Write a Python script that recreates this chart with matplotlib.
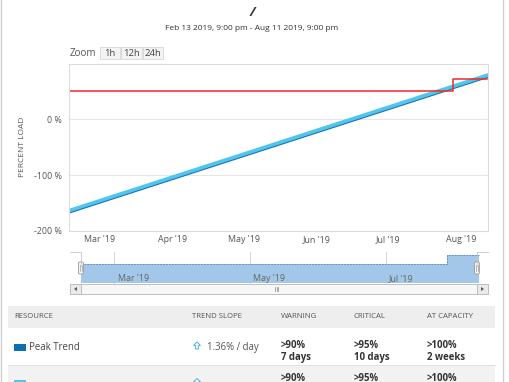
import matplotlib
matplotlib.use("Agg")
import matplotlib.pyplot as plt
import matplotlib.dates as mdates
import numpy as np
import pandas as pd
from matplotlib.patches import Rectangle, FancyBboxPatch, Polygon

plt.rcParams['font.family'] = ['Open Sans', 'DejaVu Sans']

# ---------------- data ----------------
title = "/"
subtitle = "Feb 13 2019, 9:00 pm - Aug 11 2019, 9:00 pm"
trend_dates = ["2019-02-15", "2019-08-13"]
peak_trend = [-167.0, 78.0]
avg_trend = [-165.0, 80.0]
threshold_dates = ["2019-02-13 21:00", "2019-07-28 12:00", "2019-08-11 21:00"]
threshold_values = [50.0, 73.0, 73.0]
y_ticks = [0, -100, -200]
y_tick_labels = ["0 %", "-100 %", "-200 %"]
x_tick_dates = ["2019-03-01", "2019-04-01", "2019-05-01", "2019-06-01", "2019-07-01", "2019-08-01"]
x_tick_labels = ["Mar '19", "Apr '19", "May '19", "Jun '19", "Jul '19", "Aug '19"]
nav_tick_dates = ["2019-03-01", "2019-05-01", "2019-07-01"]
nav_tick_labels = ["Mar '19", "May '19", "Jul '19"]
zoom_buttons = ["1h", "12h", "24h"]
table_headers = ["RESOURCE", "TREND SLOPE", "WARNING", "CRITICAL", "AT CAPACITY"]
row_names = ["Peak Trend", ""]
row_slopes = ["1.36% / day", ""]
row_warning = [">90%\n7 days", ">90%"]
row_critical = [">95%\n10 days", ">95%"]
row_capacity = [">100%\n2 weeks", ">100%"]

W, H = 510, 382
fig = plt.figure(figsize=(W / 100, H / 100), dpi=100)
fig.patch.set_facecolor("white")

def rect(x0, y0, x1, y1):
    return [x0 / W, 1 - y1 / H, (x1 - x0) / W, (y1 - y0) / H]

# overlay axes in pixel coordinates
ov = fig.add_axes([0, 0, 1, 1], zorder=0)
ov.set_xlim(0, W)
ov.set_ylim(H, 0)
ov.axis("off")

# card borders
ov.plot([1, 1], [0, H], color="#d0d0d0", lw=1)
ov.plot([503, 503], [0, H], color="#d0d0d0", lw=1)

ov.text(252, 12, title, ha="center", va="center", fontsize=9.5, fontweight="bold",
        style="italic", color="#333333")
ov.text(252, 29, subtitle, ha="center", va="center", fontsize=6.0, color="#333333")

# zoom buttons
ov.text(70, 53, "Zoom", ha="left", va="center", fontsize=7.0, color="#555555")
bx = [100, 121, 143]
bw = [20, 21, 20]
for x, w, lab in zip(bx, bw, zoom_buttons):
    ov.add_patch(Rectangle((x, 47), w, 12, facecolor="#f3f3f3", edgecolor="#d6d6d6", lw=0.6))
    ov.text(x + w / 2, 53, lab, ha="center", va="center", fontsize=6.8, color="#444444")

# y axis title
ov.text(23, 147, "PERCENT LOAD", ha="center", va="center", rotation=90,
        fontsize=6.0, color="#555555")

# ---------------- main chart ----------------
ax = fig.add_axes(rect(69, 64, 488, 231), zorder=2)
ax.patch.set_alpha(0)
td = pd.to_datetime(trend_dates)
thd = pd.to_datetime(threshold_dates)
ax.plot(td, peak_trend, color="#1b6fb3", lw=2.6, solid_capstyle="butt")
ax.plot(td, avg_trend, color="#4fc6ec", lw=2.6, solid_capstyle="butt")
ax.plot(thd, threshold_values, color="#f0282d", lw=1.1, drawstyle="steps-post")
ax.set_xlim(pd.Timestamp("2019-02-16 00:00"), pd.Timestamp("2019-08-12 12:00"))
ax.set_ylim(-200, 99)
ax.set_yticks(y_ticks)
ax.set_yticklabels(y_tick_labels)
ax.set_xticks(pd.to_datetime(x_tick_dates))
ax.set_xticklabels(x_tick_labels)
ax.tick_params(axis="both", length=0, labelsize=6.4, labelcolor="#555555")
ax.tick_params(axis="x", pad=3)
ax.tick_params(axis="y", pad=5)
ax.grid(axis="y", color="#e6e6e6", lw=0.8)
ax.set_axisbelow(True)
for s in ax.spines.values():
    s.set_color("#dcdcdc")
    s.set_linewidth(0.8)

# ---------------- navigator ----------------
nav = fig.add_axes(rect(70, 252, 488, 283.5), zorder=2)
nav.patch.set_alpha(0)
nav.fill_between(thd, threshold_values, 0, step="post", color="#a3c7e8", lw=0)
nav.plot(thd, threshold_values, color="#5e97cd", lw=0.7, ls=(0, (2, 1)), drawstyle="steps-post")
nav.set_xlim(pd.Timestamp("2019-02-09"), pd.Timestamp("2019-08-16"))
nav.set_ylim(0, 81)
nav.set_yticks([])
nav.set_xticks(pd.to_datetime(nav_tick_dates))
nav.set_xticklabels([])
nav.tick_params(axis="x", length=0)
nav.grid(axis="x", color="#d8d8d8", lw=0.7)
nav.set_axisbelow(True)
for s in nav.spines.values():
    s.set_visible(False)
for d, lab in zip(pd.to_datetime(nav_tick_dates), nav_tick_labels):
    nav.text(mdates.date2num(d) + 1.5, 13, lab, ha="left", va="center", fontsize=6.4,
             color="#666666")

ov2 = fig.add_axes([0, 0, 1, 1], zorder=3)
ov2.set_xlim(0, W)
ov2.set_ylim(H, 0)
ov2.axis("off")
# navigator outline
ov2.plot([70, 81, 81], [252, 252, 266], color="#c8c8c8", lw=0.6)
ov2.plot([488, 477, 477], [252, 252, 266], color="#c8c8c8", lw=0.6)
# handles
for hx in (81, 477):
    ov2.add_patch(FancyBboxPatch((hx - 2.5, 262), 5, 12, boxstyle="round,pad=0,rounding_size=1.5",
                                 facecolor="#f4f4f4", edgecolor="#999999", lw=0.6))
    ov2.plot([hx - 0.8, hx - 0.8], [265, 271], color="#888888", lw=0.4)
    ov2.plot([hx + 0.8, hx + 0.8], [265, 271], color="#888888", lw=0.4)
# scrollbar
ov2.add_patch(Rectangle((70, 284), 418, 10, facecolor="#eeeeee", edgecolor="#bbbbbb", lw=0.6))
ov2.add_patch(Rectangle((81, 284), 396, 10, facecolor="#f7f7f7", edgecolor="#bbbbbb", lw=0.6))
ov2.add_patch(Rectangle((70, 284), 11, 10, facecolor="#eaeaea", edgecolor="#bbbbbb", lw=0.6))
ov2.add_patch(Rectangle((477, 284), 11, 10, facecolor="#eaeaea", edgecolor="#bbbbbb", lw=0.6))
ov2.add_patch(Polygon([[74, 289], [77, 287], [77, 291]], closed=True, color="#555555", lw=0))
ov2.add_patch(Polygon([[484, 289], [481, 287], [481, 291]], closed=True, color="#555555", lw=0))
for gx in (275.5, 277, 278.5):
    ov2.plot([gx, gx], [287, 291], color="#888888", lw=0.5)

# ---------------- table ----------------
ov2.add_patch(Rectangle((8, 306), 487, 22, facecolor="#eeeeef", edgecolor="none"))
ov2.add_patch(Rectangle((8, 365), 487, 20, facecolor="#f2f2f3", edgecolor="none"))
ov2.plot([8, 495], [365.3, 365.3], color="#e2e2e2", lw=0.8)
hx_pos = [14, 192, 281, 354, 427]
for x, h in zip(hx_pos, table_headers):
    ov2.text(x, 317, h, ha="left", va="center", fontsize=5.6, color="#555555")

row_y = [347.5, 384]
sq_colors = ["#0f6db3", "#4fc6ec"]
for i in range(2):
    y = row_y[i]
    ov2.add_patch(Rectangle((14, y - 4), 12, 7.5, facecolor=sq_colors[i], edgecolor="none"))
    if row_names[i]:
        ov2.text(29.5, y, row_names[i], ha="left", va="center", fontsize=6.9, color="#444444")
    ay = y - 5.5
    arrow = [[197, ay], [200.5, ay + 3.5], [198.4, ay + 3.5], [198.4, ay + 7],
             [195.6, ay + 7], [195.6, ay + 3.5], [193.5, ay + 3.5]]
    ov2.add_patch(Polygon(arrow, closed=True, facecolor="white", edgecolor="#49b2de", lw=0.7))
    if row_slopes[i]:
        ov2.text(207.5, y, row_slopes[i], ha="left", va="center", fontsize=6.9, color="#555555")
    for x, txt in zip([281, 354, 427], [row_warning[i], row_critical[i], row_capacity[i]]):
        ov2.text(x, y - 7.5 if i == 0 else 378.5, txt, ha="left", va="top" if i == 0 else "center",
                 fontsize=6.9, fontweight="bold", color="#333333", linespacing=1.15)

fig.savefig("out.png", dpi=100, facecolor="white")
